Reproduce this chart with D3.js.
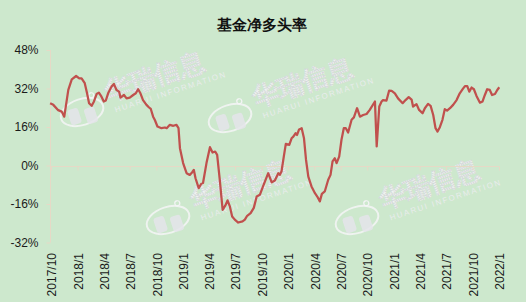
<!DOCTYPE html>
<html>
<head>
<meta charset="utf-8">
<script src="https://cdn.jsdelivr.net/npm/d3@7/dist/d3.min.js"></script>
<style>
  html, body { margin: 0; padding: 0; background: #ffffff; }
  #chart { width: 526px; height: 305px; }
  text { font-family: "Liberation Sans", Arial, sans-serif; }
</style>
</head>
<body>
<div id="chart"></div>
<script>
const title = "基金净多头率";

// weekly-ish readings, date -> net long ratio (%)
const dates = [
  "2017-09-28", "2017-10-09", "2017-10-26", "2017-11-07", "2017-11-16", "2017-11-30", "2017-12-12", "2017-12-27",
  "2018-01-07", "2018-01-15", "2018-01-26", "2018-02-03", "2018-02-10", "2018-02-19", "2018-02-27", "2018-03-08",
  "2018-03-16", "2018-03-25", "2018-04-02", "2018-04-09", "2018-04-17", "2018-04-29", "2018-05-07", "2018-05-16",
  "2018-05-25", "2018-05-30", "2018-06-11", "2018-06-20", "2018-07-01", "2018-07-13", "2018-07-22", "2018-07-30",
  "2018-08-07", "2018-08-16", "2018-08-28", "2018-09-06", "2018-09-12", "2018-09-20", "2018-09-26", "2018-10-05",
  "2018-10-19", "2018-10-31", "2018-11-06", "2018-11-17", "2018-11-29", "2018-12-10", "2018-12-17", "2018-12-22",
  "2019-01-02", "2019-01-14", "2019-01-25", "2019-02-02", "2019-02-08", "2019-02-14", "2019-02-25", "2019-03-06",
  "2019-03-12", "2019-03-24", "2019-04-05", "2019-04-14", "2019-04-23", "2019-04-30", "2019-05-09", "2019-05-19",
  "2019-05-28", "2019-06-05", "2019-06-13", "2019-06-21", "2019-06-30", "2019-07-12", "2019-07-27", "2019-08-04",
  "2019-08-12", "2019-08-24", "2019-09-04", "2019-09-14", "2019-09-25", "2019-10-06", "2019-10-24", "2019-11-05",
  "2019-11-16", "2019-11-28", "2019-12-03", "2019-12-09", "2019-12-17", "2019-12-24", "2020-01-05", "2020-01-13",
  "2020-01-19", "2020-01-27", "2020-02-01", "2020-02-08", "2020-02-17", "2020-02-25", "2020-03-03", "2020-03-11",
  "2020-03-22", "2020-04-03", "2020-04-11", "2020-04-20", "2020-04-27", "2020-05-07", "2020-05-19", "2020-05-27",
  "2020-06-03", "2020-06-11", "2020-06-17", "2020-06-26", "2020-07-04", "2020-07-12", "2020-07-19", "2020-07-27",
  "2020-08-08", "2020-08-16", "2020-08-27", "2020-09-06", "2020-09-17", "2020-09-29", "2020-10-10", "2020-10-28",
  "2020-11-03", "2020-11-12", "2020-11-20", "2020-11-25", "2020-12-07", "2020-12-16", "2020-12-25", "2021-01-05",
  "2021-01-16", "2021-02-01", "2021-02-11", "2021-02-22", "2021-03-04", "2021-03-09", "2021-03-21", "2021-03-30",
  "2021-04-11", "2021-04-19", "2021-04-30", "2021-05-09", "2021-05-18", "2021-05-26", "2021-06-02", "2021-06-10",
  "2021-06-19", "2021-06-27", "2021-07-05", "2021-07-15", "2021-07-26", "2021-08-07", "2021-08-18", "2021-08-28",
  "2021-09-05", "2021-09-13", "2021-09-20", "2021-09-28", "2021-10-06", "2021-10-15", "2021-10-27", "2021-11-05",
  "2021-11-13", "2021-11-21", "2021-11-30", "2021-12-08", "2021-12-18", "2021-12-26", "2022-01-02"
];

const values = [
  25.9, 25.2, 23.0, 22.4, 20.3, 31.4, 35.8, 37.2,
  36.2, 36.2, 34.2, 30.0, 25.9, 24.8, 26.6, 29.7,
  30.3, 28.6, 26.6, 27.0, 30.0, 32.8, 33.9, 31.4,
  30.7, 28.2, 29.3, 27.9, 28.2, 29.3, 30.0, 31.7,
  30.0, 27.2, 25.2, 24.1, 23.5, 20.3, 18.9, 16.2,
  15.5, 15.8, 15.5, 16.9, 16.5, 16.9, 15.5, 7.2,
  1.0, -3.2, -3.9, -2.9, -1.8, -5.3, -9.4, -7.6,
  -7.3, 1.0, 7.6, 5.4, 5.8, 4.4, -5.9, -18.4,
  -16.7, -14.5, -17.0, -21.2, -22.5, -23.7, -23.2, -22.5,
  -20.9, -19.8, -17.6, -12.9, -12.2, -8.7, -3.2, -7.0,
  -6.2, -3.2, -3.9, -2.5, 3.7, 9.0, 8.6, 11.3,
  12.0, 13.4, 12.7, 15.0, 15.5, 11.3, 2.4, -4.6,
  -8.7, -11.5, -12.9, -14.9, -11.8, -10.8, -5.9, -3.9,
  1.7, 3.0, 1.0, 3.7, 10.7, 15.5, 15.5, 13.7,
  19.0, 20.0, 23.8, 20.3, 21.0, 21.4, 23.1, 26.6,
  7.9, 24.5, 26.6, 27.2, 27.0, 31.1, 31.0, 30.0,
  27.9, 25.9, 27.2, 28.4, 27.4, 24.5, 25.5, 23.1,
  21.7, 23.8, 25.6, 24.8, 21.0, 15.5, 14.1, 15.9,
  19.0, 23.4, 22.8, 23.8, 25.2, 27.2, 30.0, 31.7,
  33.0, 33.0, 30.7, 32.4, 31.7, 28.9, 26.1, 26.6,
  29.3, 31.7, 31.4, 29.3, 29.7, 31.4, 32.5
];

const yTicks = [-32, -16, 0, 16, 32, 48];
const xTickLabels = [
  "2017/10", "2018/1", "2018/4", "2018/7", "2018/10", "2019/1", "2019/4", "2019/7", "2019/10",
  "2020/1", "2020/4", "2020/7", "2020/10", "2021/1", "2021/4", "2021/7", "2021/10", "2022/1"
];

// watermark logo centres
const watermarks = [[82, 112], [230, 118], [168, 220], [357, 220]];

const parse = d3.timeParse("%Y-%m-%d");
const parseTick = d3.timeParse("%Y/%m");
const data = dates.map((d, i) => ({ date: parse(d), value: values[i] }));

const width = 526, height = 305;
const margin = { top: 50, right: 27, bottom: 62.5, left: 51 };

const svg = d3.select("#chart").append("svg")
  .attr("width", width)
  .attr("height", height);

svg.append("rect")
  .attr("width", width)
  .attr("height", 302)
  .attr("fill", "#cde8cd");

const x = d3.scaleTime()
  .domain([parseTick("2017/10"), parseTick("2022/1")])
  .range([margin.left, width - margin.right]);

const y = d3.scaleLinear()
  .domain([-32, 48])
  .range([height - margin.bottom, margin.top]);

// watermarks
const wm = svg.append("g").attr("class", "watermarks");
watermarks.forEach(([cx, cy]) => {
  const g = wm.append("g").attr("transform", `translate(${cx},${cy}) rotate(-18)`);
  g.append("ellipse")
    .attr("rx", 22).attr("ry", 13)
    .attr("fill", "none")
    .attr("stroke", "#f4f4f6")
    .attr("stroke-width", 2)
    .attr("opacity", 0.85);
  g.append("rect")
    .attr("x", -14).attr("y", -6).attr("width", 11).attr("height", 16).attr("rx", 3)
    .attr("fill", "#e4e4ea").attr("opacity", 0.85);
  g.append("rect")
    .attr("x", 2).attr("y", -2).attr("width", 11).attr("height", 16).attr("rx", 3)
    .attr("fill", "#e4e4ea").attr("opacity", 0.85);
  g.append("circle")
    .attr("cx", 14).attr("cy", -13).attr("r", 2.5)
    .attr("fill", "none").attr("stroke", "#f4f4f6").attr("stroke-width", 1.2);
  g.append("text")
    .attr("x", 28).attr("y", -2)
    .attr("font-family", "'Noto Sans CJK SC', sans-serif")
    .attr("font-size", 26)
    .attr("font-weight", "bold")
    .attr("fill", "#f6f6f8")
    .attr("stroke", "#d6d6dc")
    .attr("stroke-width", 0.6)
    .attr("stroke-dasharray", "1.2 1")
    .attr("opacity", 0.85)
    .text("华瑞信息");
  g.append("text")
    .attr("x", 32).attr("y", 11)
    .attr("font-size", 8)
    .attr("letter-spacing", 1.6)
    .attr("fill", "#eeeef2")
    .attr("opacity", 0.85)
    .text("HUARUI INFORMATION");
});

const axisColor = "#e6d9c6";

// y axis
const yAxis = svg.append("g")
  .attr("transform", `translate(${margin.left - 0.5},0)`)
  .call(d3.axisLeft(y).tickValues(yTicks).tickSize(4).tickPadding(8).tickFormat(d => d + "%"));
yAxis.select(".domain").attr("stroke", axisColor).attr("d", `M0,${y(-32)}V${y(48)}`);
yAxis.selectAll(".tick line").attr("stroke", axisColor);
yAxis.selectAll(".tick text")
  .attr("fill", "#1a1a1a")
  .attr("font-size", 12)
  .attr("font-family", "'Liberation Sans', Arial, sans-serif");

// x axis along the 0% line
const xAxis = svg.append("g")
  .attr("transform", `translate(0,${Math.round(y(0)) + 0.5})`)
  .call(d3.axisBottom(x)
    .tickValues(xTickLabels.map(parseTick))
    .tickSize(4)
    .tickFormat(""));
xAxis.select(".domain").attr("stroke", axisColor).attr("d", `M${margin.left},0H${width - margin.right}`);
xAxis.selectAll(".tick line").attr("stroke", axisColor);

// rotated category labels at the bottom
svg.append("g")
  .selectAll("text")
  .data(xTickLabels)
  .join("text")
  .attr("transform", d => `translate(${x(parseTick(d)) + 1},253) rotate(-90)`)
  .attr("text-anchor", "end")
  .attr("dy", "0.36em")
  .attr("font-size", 12)
  .attr("fill", "#1a1a1a")
  .text(d => d);

// line
svg.append("path")
  .datum(data)
  .attr("fill", "none")
  .attr("stroke", "#c0504d")
  .attr("stroke-width", 2.25)
  .attr("stroke-linejoin", "round")
  .attr("d", d3.line().x(d => x(d.date)).y(d => y(d.value)));

// title
svg.append("text")
  .attr("x", 262)
  .attr("y", 30)
  .attr("text-anchor", "middle")
  .attr("font-family", "'Noto Sans CJK SC', sans-serif")
  .attr("font-size", 14.5)
  .attr("font-weight", "bold")
  .attr("fill", "#111")
  .text(title);
</script>
</body>
</html>
